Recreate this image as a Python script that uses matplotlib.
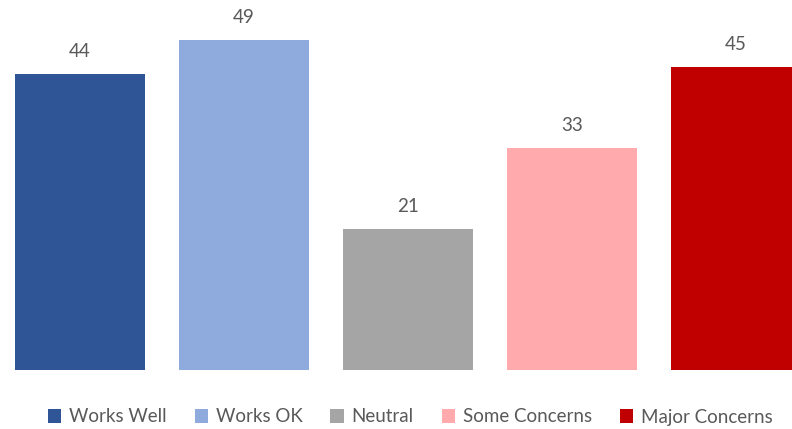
import matplotlib
matplotlib.use("Agg")
import matplotlib.pyplot as plt
from matplotlib.patches import Patch

categories = ["Works Well", "Works OK", "Neutral", "Some Concerns", "Major Concerns"]
values = [44, 49, 21, 33, 45]
colors = ["#2F5597", "#8FAADC", "#A5A5A5", "#FFABAE", "#C00000"]

plt.rcParams['font.family'] = ['Lato', 'DejaVu Sans']

fig = plt.figure(figsize=(7.92, 4.29), dpi=100)
ax = fig.add_axes([0, 1 - 370/429, 1, 370/429])
x = list(range(len(categories)))
bars = ax.bar(x, values, width=0.787, color=colors)
ax.set_xlim(-80/164, -80/164 + 792/164)
ax.set_ylim(0, 370/6.73)
for xi, v in zip(x, values):
    ax.annotate(str(v), (xi, v), xytext=(0, 10), textcoords="offset points",
                ha="center", va="bottom", fontsize=13.5, color="#595959")
ax.axis("off")

handles = [Patch(facecolor=c, edgecolor="none") for c in colors]
fig.legend(handles, categories, loc="center", bbox_to_anchor=(0.518, 1 - 417/429),
           ncol=5, frameon=False, fontsize=13.5, labelcolor="#595959",
           handlelength=0.72, handleheight=0.72, handletextpad=0.4, columnspacing=1.5)

fig.savefig("out.png", dpi=100)
